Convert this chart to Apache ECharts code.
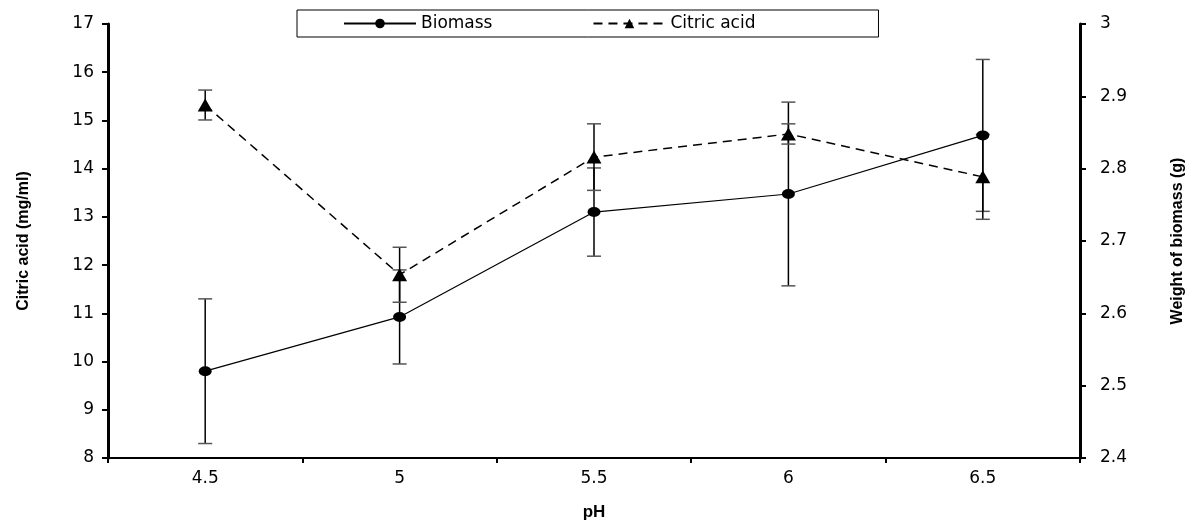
<!DOCTYPE html>
<html>
<head>
<meta charset="utf-8">
<script src="https://cdn.jsdelivr.net/npm/echarts@6/dist/echarts.min.js"></script>
<style>html,body{margin:0;padding:0;background:#fff;}#c{width:1193px;height:524px;}</style>
</head>
<body>
<div id="c"></div>
<script>
var categories = ['4.5', '5', '5.5', '6', '6.5'];
var biomass = [2.520, 2.595, 2.740, 2.765, 2.846];
var biomassErr = [0.100, 0.065, 0.061, 0.127, 0.105];
var citric = [15.32, 11.80, 14.24, 14.72, 13.83];
var citricErr = [0.31, 0.57, 0.69, 0.21, 0.88];

var FONT = 'DejaVu Sans';

function errData(vals, errs) {
  return vals.map(function (v, i) { return [i, v - errs[i], v + errs[i]]; });
}
function renderErr(params, api) {
  var x = api.value(0), lo = api.value(1), hi = api.value(2);
  var p1 = api.coord([x, hi]), p2 = api.coord([x, lo]);
  var w = 7;
  return { type: 'group', children: [
    { type: 'line', shape: { x1: p1[0], y1: p1[1], x2: p2[0], y2: p2[1] }, style: { stroke: '#000', lineWidth: 1.5 } },
    { type: 'line', shape: { x1: p1[0] - w, y1: p1[1], x2: p1[0] + w, y2: p1[1] }, style: { stroke: '#555', lineWidth: 1.5 } },
    { type: 'line', shape: { x1: p2[0] - w, y1: p2[1], x2: p2[0] + w, y2: p2[1] }, style: { stroke: '#555', lineWidth: 1.5 } }
  ] };
}

var chart = echarts.init(document.getElementById('c'));
chart.setOption({
  animation: false,
  backgroundColor: '#fff',
  grid: { left: 108, right: 113, top: 24, bottom: 66, containLabel: false, outerBoundsMode: 'none' },
  legend: {
    data: ['Biomass', 'Citric acid'],
    left: 297, top: 10,
    padding: [5, 123, 5, 46],
    itemWidth: 72, itemHeight: 12, itemGap: 100,
    borderColor: '#000', borderWidth: 1, borderRadius: 0,
    backgroundColor: '#fff',
    textStyle: { fontFamily: FONT, fontSize: 17, color: '#000' }
  },
  xAxis: {
    type: 'category', data: categories,
    name: 'pH', nameLocation: 'middle', nameGap: 46,
    nameTextStyle: { fontFamily: 'Liberation Sans', fontWeight: 'bold', fontSize: 17, color: '#000' },
    axisLine: { lineStyle: { color: '#000', width: 2 } },
    axisTick: { show: true, length: 5, lineStyle: { color: '#000', width: 2 } },
    axisLabel: { fontFamily: FONT, fontSize: 17, color: '#000', margin: 12 },
    splitLine: { show: false }
  },
  yAxis: [{
    type: 'value', min: 8, max: 17, interval: 1,
    name: 'Citric acid (mg/ml)', nameLocation: 'middle', nameGap: 76, nameRotate: 90,
    nameTextStyle: { fontFamily: 'Liberation Sans', fontWeight: 'bold', fontSize: 16, color: '#000' },
    axisLine: { show: true, lineStyle: { color: '#000', width: 3 } },
    axisTick: { show: true, length: 6, lineStyle: { color: '#000', width: 2 } },
    axisLabel: { fontFamily: FONT, fontSize: 17, color: '#000', margin: 14 },
    splitLine: { show: false }
  }, {
    type: 'value', min: 2.4, max: 3, interval: 0.1, position: 'right',
    name: 'Weight of biomass (g)', nameLocation: 'middle', nameGap: 90, nameRotate: 90,
    nameTextStyle: { fontFamily: 'Liberation Sans', fontWeight: 'bold', fontSize: 16, color: '#000' },
    axisLine: { show: true, lineStyle: { color: '#000', width: 3 } },
    axisTick: { show: true, length: 6, lineStyle: { color: '#000', width: 2 } },
    axisLabel: { fontFamily: FONT, fontSize: 17, color: '#000', margin: 20,
      formatter: function (v) { return String(Math.round(v * 10) / 10); } },
    splitLine: { show: false }
  }],
  series: [{
    name: 'Biomass err', type: 'custom', yAxisIndex: 1,
    renderItem: renderErr, data: errData(biomass, biomassErr),
    encode: { x: 0, y: [1, 2] }, z: 1
  }, {
    name: 'Citric acid err', type: 'custom', yAxisIndex: 0,
    renderItem: renderErr, data: errData(citric, citricErr),
    encode: { x: 0, y: [1, 2] }, z: 1
  }, {
    name: 'Biomass', type: 'line', yAxisIndex: 1, data: biomass,
    symbol: 'circle', symbolSize: [13, 10],
    itemStyle: { color: '#000' },
    lineStyle: { color: '#000', width: 1.2 }, z: 3
  }, {
    name: 'Citric acid', type: 'line', yAxisIndex: 0, data: citric,
    symbol: 'triangle', symbolSize: [15, 13],
    itemStyle: { color: '#000' },
    lineStyle: { color: '#000', width: 1.5, type: [9, 6] }, z: 3
  }]
});
</script>
</body>
</html>
